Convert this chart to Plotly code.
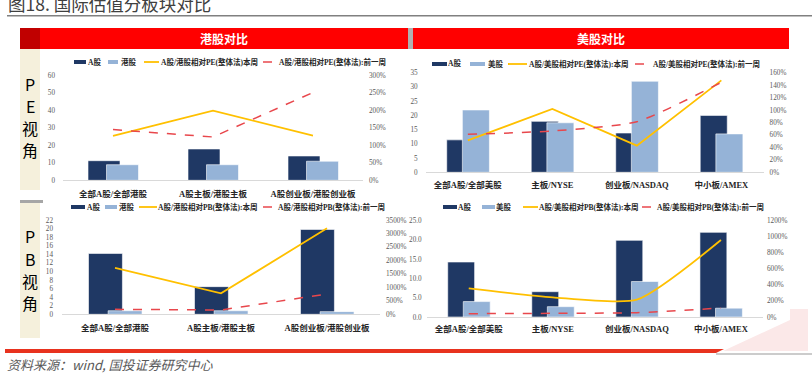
import plotly.graph_objects as go

W, H = 812, 382

# ---------------- data ----------------
hk_cats = ["全部A股/全部港股", "A股主板/港股主板", "A股创业板/港股创业板"]
us_cats = ["全部A股/全部美股", "主板/NYSE", "创业板/NASDAQ", "中小板/AMEX"]

pe_hk_a = [11.2, 17.9, 13.9]
pe_hk_h = [8.9, 8.9, 10.9]
pe_hk_rel_now = [126.7, 199.0, 127.6]
pe_hk_rel_prev = [144.8, 123.8, 251.0]

pe_us_a = [11.4, 17.9, 13.8, 20.0]
pe_us_u = [21.9, 17.4, 32.0, 13.5]
pe_us_rel_now = [51.4, 101.7, 42.8, 147.7]
pe_us_rel_prev = [61.0, 66.4, 81.3, 144.5]

pb_hk_a = [14.2, 6.45, 19.8]
pb_hk_h = [0.83, 0.83, 0.62]
pb_hk_rel_now = [1719, 779, 3191]
pb_hk_rel_prev = [185, 160, 754]

pb_us_a = [14.27, 6.57, 19.9, 21.97]
pb_us_u = [4.0, 2.68, 9.21, 2.29]
pb_us_rel_now = [357, 245, 216, 959]
pb_us_rel_prev = [41.5, 45.7, 54.0, 112.0]

legend_hk_pe = ["A股", "港股", "A股/港股相对PE(整体法)本周", "A股/港股相对PE(整体法):前一周"]
legend_us_pe = ["A股", "美股", "A股/美股相对PE(整体法):本周", "A股/美股相对PE(整体法):前一周"]
legend_hk_pb = ["A股", "港股", "A股/港股相对PB(整体法):本周", "A股/港股相对PB(整体法):前一周"]
legend_us_pb = ["A股", "美股", "A股/美股相对PB(整体法):本周", "A股/美股相对PB(整体法):前一周"]

# ---------------- styles ----------------
NAVY = "#1f3864"
LBLUE = "#95b3d7"
YEL = "#ffc000"
RED = "#e8474c"
SERIF = "Liberation Serif, Noto Sans CJK SC"
TICKFONT = dict(family=SERIF, size=7.2, color="#595959")
CATFONT = dict(family=SERIF, size=8.5, color="#262626", weight=700)
LEGFONT = dict(family=SERIF, size=7.5, color="#262626", weight=700)


def px(x):
    return x / W


def py(y):
    return 1 - y / H


fig = go.Figure()

# cats, a, b, now, prev, xaxis, yl, yr, xdom, ydom, lrange, ldtick, rrange, rdtick, lfmt,
# now-shape, prev-shape, left standoff, right standoff, cat standoff
panels = [
    (hk_cats, pe_hk_a, pe_hk_h, pe_hk_rel_now, pe_hk_rel_prev, "x", "y", "y2",
     (63, 363), (75.3, 180.3), (0, 60), 10, (0, 300), 50, None, "linear", "linear", 7, 5, 5),
    (us_cats, pe_us_a, pe_us_u, pe_us_rel_now, pe_us_rel_prev, "x2", "y3", "y4",
     (425.6, 763.6), (72.7, 172.3), (0, 35), 5, (0, 160), 20, None, "linear", "spline", 7, 5, 4),
    (hk_cats, pb_hk_a, pb_hk_h, pb_hk_rel_now, pb_hk_rel_prev, "x3", "y5", "y6",
     (62, 380), (220, 314.3), (0, 22), 2, (0, 3500), 500, None, "linear", "linear", 8, 5, 5),
    (us_cats, pb_us_a, pb_us_u, pb_us_rel_now, pb_us_rel_prev, "x4", "y7", "y8",
     (426.7, 763), (220.7, 317), (0, 25), 5, (0, 1200), 200, ".1f", "spline", "spline", 4, 3, 4),
]

layout_axes = {}
for (cats, a, b, now, prev, xa, yl, yr, xd, yd, lr, lt, rr, rt, lfmt,
     s_now, s_prev, lso, rso, cso) in panels:
    fig.add_trace(go.Bar(x=cats, y=a, xaxis=xa, yaxis=yl, marker_color=NAVY,
                         marker_line=dict(color="white", width=0.6),
                         offset=-0.25, width=0.32, showlegend=False))
    fig.add_trace(go.Bar(x=cats, y=b, xaxis=xa, yaxis=yl, marker_color=LBLUE,
                         marker_line=dict(color="white", width=0.6),
                         offset=-0.065, width=0.32, showlegend=False))
    fig.add_trace(go.Scatter(x=cats, y=now, xaxis=xa, yaxis=yr, mode="lines",
                             line=dict(color=YEL, width=1.8, shape=s_now, smoothing=0.6),
                             showlegend=False))
    fig.add_trace(go.Scatter(x=cats, y=prev, xaxis=xa, yaxis=yr, mode="lines",
                             line=dict(color=RED, width=1.5, dash="dash", shape=s_prev, smoothing=0.6),
                             showlegend=False))
    xname = "xaxis" if xa == "x" else "xaxis" + xa[1:]
    ylname = "yaxis" if yl == "y" else "yaxis" + yl[1:]
    yrname = "yaxis" + yr[1:]
    layout_axes[xname] = dict(domain=[px(xd[0]), px(xd[1])], anchor=yl, automargin=False,
                              range=[-0.5, len(cats) - 0.5], showgrid=False, zeroline=False,
                              showline=True, linecolor="#d9d9d9", linewidth=1, ticks="",
                              ticklabelstandoff=cso, tickfont=CATFONT, fixedrange=True)
    ytl = dict(domain=[py(yd[1]), py(yd[0])], anchor=xa, range=list(lr), automargin=False,
               tickmode="linear", tick0=0, dtick=lt, showgrid=False, zeroline=False,
               showline=False, ticks="", ticklabelstandoff=lso, tickfont=TICKFONT)
    if lfmt:
        ytl["tickformat"] = lfmt
    layout_axes[ylname] = ytl
    layout_axes[yrname] = dict(overlaying=yl, side="right", anchor=xa, range=list(rr),
                               automargin=False,
                               tickmode="linear", tick0=0, dtick=rt, ticksuffix="%",
                               showgrid=False, zeroline=False, showline=False, ticks="",
                               ticklabelstandoff=rso, tickfont=TICKFONT)

fig.update_layout(**layout_axes)

shapes = []
annots = []


def note(x, y, text, font, xanchor="center", yanchor="middle"):
    annots.append(dict(x=px(x), y=py(y), xref="paper", yref="paper", text=text,
                       xanchor=xanchor, yanchor=yanchor, showarrow=False, font=font, borderpad=0))


def rect(x0, x1, y0, y1, color, layer="below"):
    shapes.append(dict(type="rect", xref="paper", yref="paper", x0=px(x0), x1=px(x1),
                       y0=py(y1), y1=py(y0), fillcolor=color, line_width=0, layer=layer))


# Title and rule
note(7, 3, "图18. 国际估值分板块对比", dict(family="Noto Sans CJK SC", size=17.5, color="#404040"),
     xanchor="left")
shapes.append(dict(type="line", xref="paper", yref="paper", x0=px(7), x1=1, y0=py(15.7), y1=py(15.7),
                   line=dict(color="#808080", width=1.5)))

# Headers
rect(20, 408, 28, 49, "#ff0000")
rect(20, 40, 28, 49, "#c00000")
rect(408, 413, 28, 49, "#b0b0b0")
rect(413, 789, 28, 49, "#ff0000")
note(224, 38.5, "<b>港股对比</b>", dict(family="Noto Sans CJK SC", size=12, color="white"))
note(601, 38.5, "<b>美股对比</b>", dict(family="Noto Sans CJK SC", size=12, color="white"))

# Side panels
rect(20, 40, 49, 190, "#f5f0dc")
rect(20, 40, 203, 338, "#f5f0dc")
rect(20, 43, 200, 203, "#a6a6a6")
SIDEFONT = dict(family="Noto Sans CJK SC", size=16, color="black")
for ch, yy in zip(["P", "E", "视", "角"], [84, 106, 128, 150]):
    note(30, yy, ch, SIDEFONT)
for ch, yy in zip(["P", "B", "视", "角"], [236, 259, 281, 303]):
    note(30, yy, ch, SIDEFONT)

# Bottom decoration
shapes.append(dict(type="path", xref="paper", yref="paper",
                   path=f"M {px(723)},{py(351)} L {px(790)},{py(320)} L {px(790)},{py(309)} L {px(808)},{py(309)} L {px(808)},{py(351)} Z",
                   fillcolor="#fbe8e8", line_width=0, layer="below"))
shapes.append(dict(type="path", xref="paper", yref="paper",
                   path=f"M {px(5)},{py(349)} L {px(724)},{py(349)} L {px(716)},{py(353)} L {px(5)},{py(353)} Z",
                   fillcolor="#e8321e", line_width=0))
shapes.append(dict(type="line", xref="paper", yref="paper", x0=px(716), x1=1, y0=py(354), y1=py(354),
                   line=dict(color="#9a9a9a", width=1.2)))
note(6, 364, "<i>资料来源：wind, 国投证券研究中心</i>",
     dict(family="Noto Sans CJK SC", size=13, color="#595959"), xanchor="left")


# Legends (manual)
def legend(yc, items, labels):
    kinds = ["bar_a", "bar_b", "line_now", "line_prev"]
    for (s0, s1, tx), kind, lab in zip(items, kinds, labels):
        if kind in ("bar_a", "bar_b"):
            rect(s0, s1, yc - 2, yc + 2, NAVY if kind == "bar_a" else LBLUE, layer="above")
        elif kind == "line_now":
            shapes.append(dict(type="line", xref="paper", yref="paper", x0=px(s0), x1=px(s1),
                               y0=py(yc), y1=py(yc), line=dict(color=YEL, width=1.8)))
        else:
            shapes.append(dict(type="line", xref="paper", yref="paper", x0=px(s0), x1=px(s1),
                               y0=py(yc), y1=py(yc), line=dict(color=RED, width=1.5, dash="dash")))
        note(tx, yc, lab, LEGFONT, xanchor="left")


legend(62, [(74, 86, 87), (108, 118, 120), (144, 159, 160), (263, 277, 278)], legend_hk_pe)
legend(64, [(432, 447, 447), (470, 485, 487), (508, 527, 528), (635, 652, 652)], legend_us_pe)
legend(207, [(71, 85, 86), (105, 117, 118), (139, 157, 157), (263, 277, 277)], legend_hk_pb)
legend(207, [(443, 457, 457), (482, 495, 495), (523, 538, 538), (642, 656, 656)], legend_us_pb)

fig.update_layout(
    width=W, height=H, autosize=False,
    margin=dict(l=0, r=0, t=0, b=0, pad=0, autoexpand=False),
    paper_bgcolor="white", plot_bgcolor="white",
    barmode="overlay", showlegend=False,
    shapes=shapes, annotations=annots,
)

fig.write_html("out.html", config={"displayModeBar": False},
               post_script="document.body.style.margin='0';document.body.style.overflow='hidden';")
